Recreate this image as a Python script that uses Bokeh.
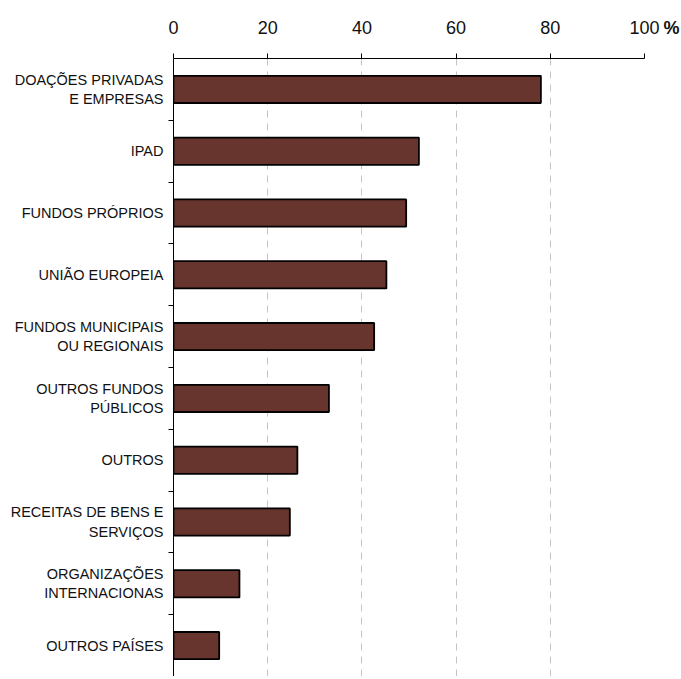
from bokeh.plotting import figure
from bokeh.models import ColumnDataSource, Range1d, FixedTicker, LinearAxis
from bokeh.embed import file_html
from bokeh.resources import INLINE

categories = [
    "DOAÇÕES PRIVADAS\nE EMPRESAS",
    "IPAD",
    "FUNDOS PRÓPRIOS",
    "UNIÃO EUROPEIA",
    "FUNDOS MUNICIPAIS\nOU REGIONAIS",
    "OUTROS FUNDOS\nPÚBLICOS",
    "OUTROS",
    "RECEITAS DE BENS E\nSERVIÇOS",
    "ORGANIZAÇÕES\nINTERNACIONAS",
    "OUTROS PAÍSES",
]
values = [78.0, 52.1, 49.4, 45.2, 42.6, 33.0, 26.3, 24.7, 14.0, 9.7]
x_ticks = [0, 20, 40, 60, 80, 100]
unit_suffix = "%"

n = len(categories)
ypos = list(range(1, n + 1))
src = ColumnDataSource(dict(y=ypos, v=values, cat=categories))

FONT = "Liberation Sans"

# layout (pixels)
W, H = 680, 676
LEFT, TOP = 173, 58
PX_AXIS = 471                      # pixel length of the 0..100 axis
x_max = x_ticks[-1]
x_end = x_max * (W - LEFT) / PX_AXIS   # frame runs a little past 100 (room for the unit sign)
unit_pos = x_max + 27 * x_max / PX_AXIS  # centre of the unit sign, 27 px right of the last tick

p = figure(width=W, height=H, output_backend="svg", toolbar_location=None,
           x_range=Range1d(0, x_end), y_range=Range1d(n + 0.5, 0.5),
           x_axis_location="above", y_axis_location="left",
           min_border_left=LEFT, min_border_right=0, min_border_top=TOP,
           min_border_bottom=0)
p.outline_line_color = None
p.background_fill_color = "white"
p.border_fill_color = "white"

p.hbar(y="y", left=0, right="v", height=0.44, source=src,
       fill_color="#68352E", line_color="#000000", line_width=1.8)

# top axis
xa = p.xaxis[0]
xa.ticker = FixedTicker(ticks=x_ticks)
xa.bounds = (x_ticks[0], x_ticks[-1])
xa.axis_line_color = "#000000"
xa.major_tick_line_color = "#000000"
xa.major_tick_out = 5
xa.major_tick_in = 0
xa.minor_tick_line_color = None
xa.major_label_text_font = FONT
xa.major_label_text_font_size = "18px"
xa.major_label_text_color = "#111111"
xa.major_label_standoff = 20

# second top axis carrying only the bold unit sign next to the last tick label
ua = LinearAxis(ticker=FixedTicker(ticks=[unit_pos]),
                major_label_overrides={unit_pos: unit_suffix},
                axis_line_color=None, major_tick_line_color=None,
                minor_tick_line_color=None,
                major_label_text_font=FONT, major_label_text_font_size="18px",
                major_label_text_font_style="bold",
                major_label_text_color="#111111",
                major_label_standoff=-26)
p.add_layout(ua, "above")

# left axis with category labels, boundary ticks as minor ticks
ya = p.yaxis[0]
ya.ticker = FixedTicker(ticks=ypos, minor_ticks=[y + 0.5 for y in ypos[:-1]])
ya.major_label_overrides = {y: c for y, c in zip(ypos, categories)}
ya.axis_line_color = "#000000"
ya.major_tick_line_color = None
ya.major_tick_out = 0
ya.major_tick_in = 0
ya.minor_tick_line_color = "#000000"
ya.minor_tick_out = 5
ya.minor_tick_in = 0
ya.major_label_text_font = FONT
ya.major_label_text_font_size = "14.5px"
ya.major_label_text_color = "#111111"
ya.major_label_standoff = 5

# grid
p.ygrid.grid_line_color = None
p.xgrid.ticker = FixedTicker(ticks=x_ticks[1:-1])
p.xgrid.grid_line_color = "#c4c4c4"
p.xgrid.grid_line_dash = "7 6"
p.xgrid.grid_line_width = 1

open("out.html", "w").write(file_html(p, INLINE))
